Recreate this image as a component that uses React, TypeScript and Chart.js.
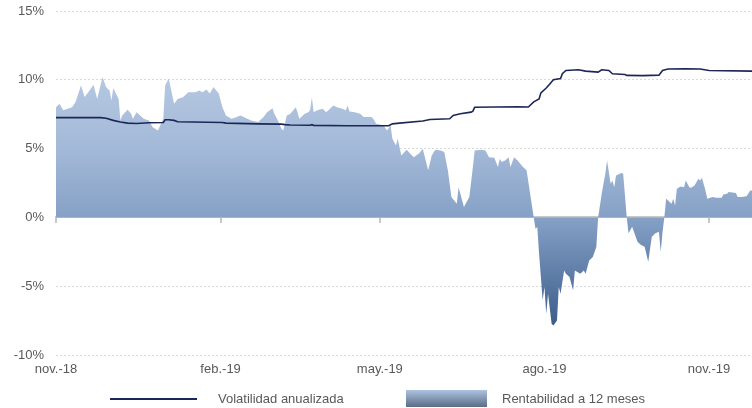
import React, { useEffect, useRef } from 'react';
import { Chart, registerables } from 'chart.js';

Chart.register(...registerables);

// Days counted from 1 Nov 2018
const tickDays = [0, 92, 181, 273, 365];
const tickLabels = ['nov.-18', 'feb.-19', 'may.-19', 'ago.-19', 'nov.-19'];
const yTickValues = [-10, -5, 0, 5, 10, 15];
const seriesNames = ['Volatilidad anualizada', 'Rentabilidad a 12 meses'];

const returnDays = [
  0, 2, 4, 9, 11, 14, 16, 18, 21, 23,
  26, 28, 30, 31, 32, 35, 36, 37, 40, 42,
  43, 45, 49, 52, 54, 57, 60, 61, 63, 66,
  68, 71, 74, 78, 80, 82, 84, 86, 88, 91,
  93, 95, 98, 100, 103, 107, 109, 111, 113, 116,
  118, 121, 122, 124, 126, 127, 129, 131, 134, 135,
  136, 139, 141, 142, 143, 144, 146, 149, 151, 155,
  157, 160, 162, 163, 164, 167, 170, 172, 176, 177,
  179, 183, 185, 187, 188, 190, 191, 193, 196, 198,
  200, 203, 204, 205, 208, 210, 212, 215, 217, 219,
  221, 224, 225, 228, 231, 233, 234, 238, 240, 242,
  245, 247, 248, 249, 251, 253, 254, 256, 258, 261,
  263, 265, 267, 268, 269, 270, 271, 272, 273, 274,
  275, 277, 278, 280, 281, 282, 284, 285, 287, 289,
  290, 293, 295, 296, 297, 298, 300, 302, 303, 305,
  307, 308, 310, 311, 312, 313, 316, 317, 319, 320,
  322, 324, 325, 327, 329, 331, 333, 335, 337, 338,
  339, 340, 341, 342, 344, 345, 346, 347, 349, 351,
  352, 354, 355, 357, 359, 360, 361, 363, 364, 367,
  369, 372, 373, 375, 376, 380, 381, 383, 386, 388, 389,
];

const returnValues = [
  8.0, 8.26, 7.78, 8.0, 8.4, 9.6, 8.75, 9.1, 9.64, 8.6,
  10.2, 9.47, 9.2, 8.5, 9.4, 8.6, 7.05, 7.4, 7.83, 7.53,
  7.17, 7.65, 7.17, 7.05, 6.56, 6.32, 7.2, 9.6, 10.1, 8.26,
  8.6, 8.74, 9.1, 9.1, 9.23, 9.1, 9.3, 9.0, 9.47, 9.0,
  8.0, 7.4, 7.17, 7.24, 7.4, 7.17, 7.05, 6.98, 6.93, 7.3,
  7.65, 7.94, 7.53, 7.05, 6.45, 6.32, 7.4, 7.53, 8.0, 7.65,
  7.17, 7.53, 7.65, 7.78, 8.74, 7.65, 7.78, 7.9, 7.65, 8.14,
  8.0, 7.9, 7.78, 8.14, 7.7, 7.65, 7.53, 7.3, 7.3, 7.22,
  6.8, 6.69, 6.32, 6.69, 5.72, 5.23, 5.72, 4.5, 4.92, 4.63,
  4.38, 4.67, 4.82, 4.99, 3.42, 4.5, 4.92, 4.87, 4.75, 3.42,
  1.48, 1.0, 2.2, 0.75, 1.48, 3.66, 4.87, 4.92, 4.87, 4.38,
  4.34, 3.66, 4.26, 4.02, 4.14, 4.38, 3.66, 4.38, 4.14, 3.66,
  3.42, 1.72, 0, -0.82, -0.7, -2.64, -4.34, -6.03, -5.06, -7.0,
  -5.55, -7.72, -7.85, -7.49, -5.06, -5.55, -3.85, -4.09, -4.34, -5.3,
  -3.85, -4.09, -3.85, -4.09, -3.61, -3.13, -2.88, -2.15, 0, 1.72,
  3.18, 4.14, 2.45, 2.69, 2.2, 3.05, 3.22, 3.18, 0, -1.16,
  -0.68, -1.4, -1.77, -2.0, -2.13, -3.22, -1.4, -1.16, -1.05, -2.5,
  -1.05, 0, 1.36, 1.24, 1.0, 1.36, 0.87, 2.08, 2.25, 2.2,
  2.69, 2.2, 2.16, 2.33, 2.81, 2.69, 2.88, 1.96, 1.36, 1.48,
  1.43, 1.43, 1.67, 1.72, 1.84, 1.77, 1.48, 1.48, 1.53, 1.96, 1.96,
];

const volDays = [
  0, 25, 28, 32, 36, 40, 45, 52, 60, 61,
  63, 66, 68, 93, 95, 113, 126, 128, 131, 142,
  143, 144, 163, 180, 186, 188, 192, 205, 209, 220,
  222, 226, 232, 233, 234, 258, 264, 267, 270, 271,
  274, 276, 278, 282, 283, 285, 292, 296, 303, 305,
  309, 311, 318, 319, 328, 337, 339, 342, 352, 360,
  365, 389,
];

const volValues = [
  7.25, 7.25, 7.2, 7.05, 6.93, 6.85, 6.82, 6.88, 6.9, 7.1,
  7.1, 7.05, 6.95, 6.9, 6.85, 6.8, 6.78, 6.74, 6.72, 6.7,
  6.74, 6.69, 6.66, 6.66, 6.66, 6.8, 6.85, 7.0, 7.12, 7.17,
  7.41, 7.53, 7.65, 7.72, 8.0, 8.04, 8.02, 8.4, 8.6, 9.05,
  9.4, 9.7, 10.0, 10.1, 10.44, 10.68, 10.73, 10.63, 10.56, 10.73,
  10.68, 10.44, 10.39, 10.32, 10.3, 10.34, 10.68, 10.78, 10.8, 10.78,
  10.68, 10.63,
];

const FONT = "'Liberation Sans', Arial, Helvetica, sans-serif";
const TEXT = '#595959';
const LINE = '#1d2757';

export default function App() {
  const ref = useRef<HTMLCanvasElement>(null);

  useEffect(() => {
    if (!ref.current) return;

    const areaFill = (ctx: any) => {
      const chart = ctx.chart;
      const area = chart.chartArea;
      if (!area) return '#9fb4d4';
      const ys = chart.scales.y;
      const h = area.bottom - area.top;
      const f = (v: number) => Math.min(1, Math.max(0, (ys.getPixelForValue(v) - area.top) / h));
      const g = chart.ctx.createLinearGradient(0, area.top, 0, area.bottom);
      g.addColorStop(f(11), '#b8cae2');
      g.addColorStop(f(5), '#a3b9d8');
      g.addColorStop(f(0), '#86a1c6');
      g.addColorStop(f(-8), '#3a5b8a');
      return g;
    };

    const legendPlugin = {
      id: 'customLegend',
      afterDraw(chart: any) {
        const c = chart.ctx;
        const y = 399;
        c.save();
        c.strokeStyle = LINE;
        c.lineWidth = 2;
        c.beginPath();
        c.moveTo(110, y);
        c.lineTo(197, y);
        c.stroke();
        c.font = `13px ${FONT}`;
        c.fillStyle = TEXT;
        c.textBaseline = 'middle';
        c.textAlign = 'left';
        c.fillText(seriesNames[0], 218, y);
        const g = c.createLinearGradient(0, 390, 0, 407);
        g.addColorStop(0, '#aec3e0');
        g.addColorStop(1, '#5a6c86');
        c.fillStyle = g;
        c.fillRect(406, 390, 81, 17);
        c.fillStyle = TEXT;
        c.fillText(seriesNames[1], 502, y);
        c.restore();
      },
    };

    const setTicks = (vals: number[]) => (s: any) => {
      s.ticks = vals.map((v) => ({ value: v }));
    };

    const chart = new Chart(ref.current, {
      type: 'line',
      data: {
        datasets: [
          {
            label: seriesNames[0],
            data: volDays.map((d, i) => ({ x: d, y: volValues[i] })),
            borderColor: LINE,
            borderWidth: 1.6,
            pointRadius: 0,
            fill: false,
            tension: 0,
          },
          {
            label: seriesNames[1],
            data: returnDays.map((d, i) => ({ x: d, y: returnValues[i] })),
            borderColor: 'rgba(0,0,0,0)',
            borderWidth: 0,
            pointRadius: 0,
            fill: 'origin',
            backgroundColor: areaFill,
            tension: 0,
          },
        ],
      },
      options: {
        animation: false,
        responsive: false,
        maintainAspectRatio: false,
        layout: { padding: { top: 11, left: 0, right: 0, bottom: 0 } },
        plugins: { legend: { display: false }, tooltip: { enabled: false } },
        scales: {
          x: {
            type: 'linear',
            min: 0,
            max: 389,
            position: { y: 0 } as any,
            z: 1,
            afterBuildTicks: setTicks(tickDays),
            ticks: { display: false },
            grid: { drawOnChartArea: false, drawTicks: true, tickLength: 5, color: '#c8c8c8', lineWidth: 2 },
            border: { display: true, color: '#c8c8c8', width: 2 },
          },
          x2: {
            type: 'linear',
            min: 0,
            max: 389,
            position: 'bottom',
            afterBuildTicks: setTicks(tickDays),
            ticks: {
              callback: (v: any) => tickLabels[tickDays.indexOf(Number(v))],
              color: TEXT,
              font: { size: 13, family: FONT },
              padding: 7,
              maxRotation: 0,
              autoSkip: false,
            },
            grid: { display: false, drawTicks: false },
            border: { display: false },
            afterFit: (s: any) => {
              s.height = 53;
            },
          },
          y: {
            type: 'linear',
            min: -10,
            max: 15,
            afterBuildTicks: setTicks(yTickValues),
            ticks: {
              callback: (v: any) => v + '%',
              padding: 12,
              color: TEXT,
              font: { size: 13, family: FONT },
            },
            grid: {
              color: (ctx: any) => (ctx.tick && ctx.tick.value === 0 ? 'rgba(0,0,0,0)' : '#d9d9d9'),
              drawTicks: false,
              lineWidth: 1,
            },
            border: { display: false, dash: [2, 2] },
            afterFit: (s: any) => {
              s.width = 56;
              s.paddingTop = 0;
              s.paddingBottom = 0;
            },
          },
        },
      },
      plugins: [legendPlugin],
    });

    return () => chart.destroy();
  }, []);

  return (
    <div style={{ position: 'fixed', left: 0, top: 0, width: 752, height: 408, background: '#fff' }}>
      <canvas ref={ref} width={752} height={408} style={{ display: 'block', width: 752, height: 408 }} />
    </div>
  );
}
